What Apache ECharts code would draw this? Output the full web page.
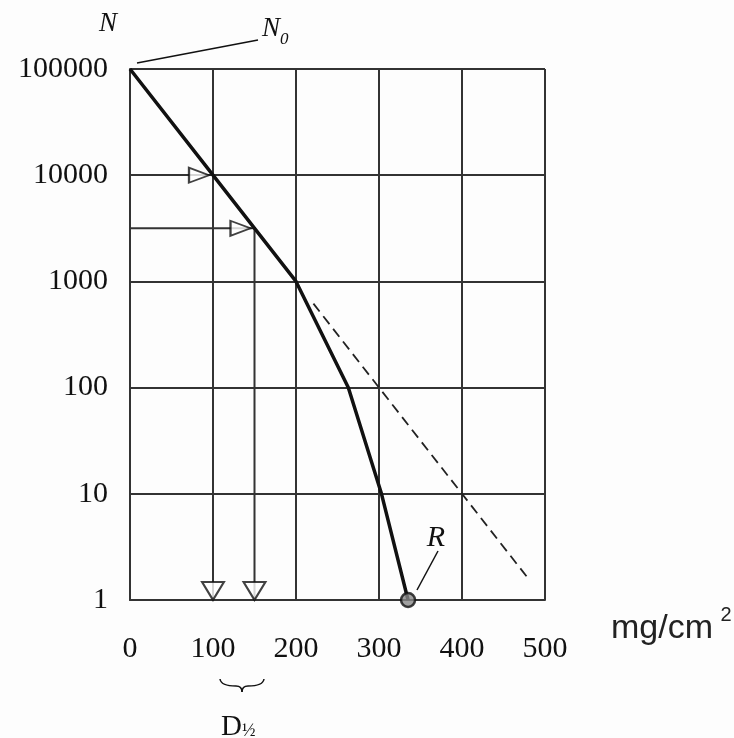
<!DOCTYPE html>
<html>
<head>
<meta charset="utf-8">
<script src="https://cdn.jsdelivr.net/npm/echarts@6/dist/echarts.min.js"></script>
<style>
  html, body { margin: 0; padding: 0; background: #fff; }
  #main { width: 734px; height: 738px; }
</style>
</head>
<body>
<div id="main"></div>
<script>
// absorption curve, N (log) vs thickness in mg/cm2
var xTicks = [0, 100, 200, 300, 400, 500];
var yTicks = [1, 10, 100, 1000, 10000, 100000];

var curveX = [0, 100, 200, 263, 303, 335];
var curveY = [100000, 10000, 1000, 100, 10, 1];

// extrapolated exponential part (dashed)
var dashX = [221, 478];
var dashY = [617, 1.66];

// half-value readings
var halfX = [100, 150];
var halfY = [10000, 3160];

var rangeX = [335];
var rangeY = [1];

var ink = '#111';
var serif = '"Liberation Serif", "DejaVu Serif", serif';

function pairs(xs, ys) {
  return xs.map(function (x, i) { return [x, ys[i]]; });
}

var chart = echarts.init(document.getElementById('main'), null, { renderer: 'canvas' });

var guides = [];
// horizontal guide at 3160 from the axis to the curve
guides.push({
  type: 'line', data: [[xTicks[0], halfY[1]], [halfX[1], halfY[1]]],
  symbol: 'none', silent: true, z: 2,
  lineStyle: { color: '#333', width: 2 }
});
halfX.forEach(function (x, i) {
  guides.push({
    type: 'line', data: [[x, halfY[i]], [x, yTicks[0]]],
    symbol: 'none', silent: true, z: 2,
    lineStyle: { color: '#333', width: 2 }
  });
});

function curve(x1, y1, cx, cy, x2, y2) {
  return {
    type: 'bezierCurve',
    shape: { x1: x1, y1: y1, cpx1: cx, cpy1: cy, x2: x2, y2: y2 },
    style: { stroke: ink, lineWidth: 1.5, fill: null }
  };
}

var option = {
  backgroundColor: '#fdfdfd',
  animation: false,
  grid: { left: 130, right: 189, top: 69, bottom: 138 },
  xAxis: {
    type: 'value',
    min: 0, max: 500, interval: 100,
    axisLine: { show: true, lineStyle: { color: '#333', width: 2 } },
    axisTick: { show: false },
    splitLine: { show: true, lineStyle: { color: '#333', width: 2 } },
    axisLabel: { margin: 34, color: ink, fontFamily: serif, fontSize: 30 }
  },
  yAxis: {
    type: 'log', logBase: 10,
    min: 1, max: 100000,
    axisLine: { show: true, lineStyle: { color: '#333', width: 2 } },
    axisTick: { show: false },
    splitLine: { show: true, lineStyle: { color: '#333', width: 2 } },
    axisLabel: {
      margin: 22, color: ink, fontFamily: serif, fontSize: 30,
      formatter: function (v) { return String(Math.round(v)); }
    }
  },
  series: guides.concat([
    {
      type: 'line', data: pairs(dashX, dashY), symbol: 'none', z: 3,
      lineStyle: { color: '#222', width: 1.8, type: [10, 6] }
    },
    {
      type: 'line', data: pairs(curveX, curveY), symbol: 'none', z: 4,
      lineStyle: { color: '#111', width: 3.5 }
    },
    {
      type: 'scatter', data: pairs(halfX, halfY), z: 5,
      symbol: 'triangle', symbolSize: [15, 20], symbolRotate: -90, symbolOffset: [-14, 0],
      itemStyle: { color: '#fff', borderColor: '#111', borderWidth: 2 }
    },
    {
      type: 'scatter', data: halfX.map(function (x) { return [x, yTicks[0]]; }), z: 5,
      symbol: 'triangle', symbolSize: [22, 18], symbolRotate: 180, symbolOffset: [0, -9],
      itemStyle: { color: '#fff', borderColor: '#111', borderWidth: 2 }
    },
    {
      type: 'scatter', data: pairs(rangeX, rangeY), z: 6,
      symbol: 'circle', symbolSize: 14,
      itemStyle: { color: '#888', borderColor: '#111', borderWidth: 2.5 }
    }
  ]),
  graphic: [
    { type: 'text', x: 108, y: 24, style: { text: 'N', font: 'italic 27px ' + serif, fill: ink, textAlign: 'center', textVerticalAlign: 'middle' } },
    {
      type: 'text', x: 262, y: 15,
      style: {
        text: '{a|N}{b|0}', fill: ink,
        rich: {
          a: { font: 'italic 27px ' + serif, fill: ink, verticalAlign: 'top' },
          b: { font: 'italic 17px ' + serif, fill: ink, padding: [16, 0, 0, 0] }
        }
      }
    },
    { type: 'line', shape: { x1: 137, y1: 63, x2: 258, y2: 40 }, style: { stroke: ink, lineWidth: 1.5 } },
    { type: 'text', x: 436, y: 538, style: { text: 'R', font: 'italic 30px ' + serif, fill: ink, textAlign: 'center', textVerticalAlign: 'middle' } },
    { type: 'line', shape: { x1: 438, y1: 551, x2: 417, y2: 590 }, style: { stroke: ink, lineWidth: 1.5 } },
    { type: 'text', x: 611, y: 629, style: { text: 'mg/cm', font: '34px "Liberation Sans", Arial, sans-serif', fill: '#222', textAlign: 'left', textVerticalAlign: 'middle' } },
    { type: 'text', x: 726, y: 615, style: { text: '2', font: '20px "Liberation Sans", Arial, sans-serif', fill: '#222', textAlign: 'center', textVerticalAlign: 'middle' } },
    curve(220, 679, 221, 686, 236, 686),
    curve(236, 686, 242, 686, 242, 692),
    curve(242, 692, 242, 686, 248, 686),
    curve(248, 686, 263, 686, 264, 679),
    {
      type: 'text', x: 221, y: 713,
      style: {
        text: '{a|D}{b|½}', fill: ink,
        rich: {
          a: { font: '29px ' + serif, fill: ink },
          b: { font: '18px ' + serif, fill: ink, padding: [8, 0, 0, 0] }
        }
      }
    }
  ]
};

chart.setOption(option);
</script>
</body>
</html>
